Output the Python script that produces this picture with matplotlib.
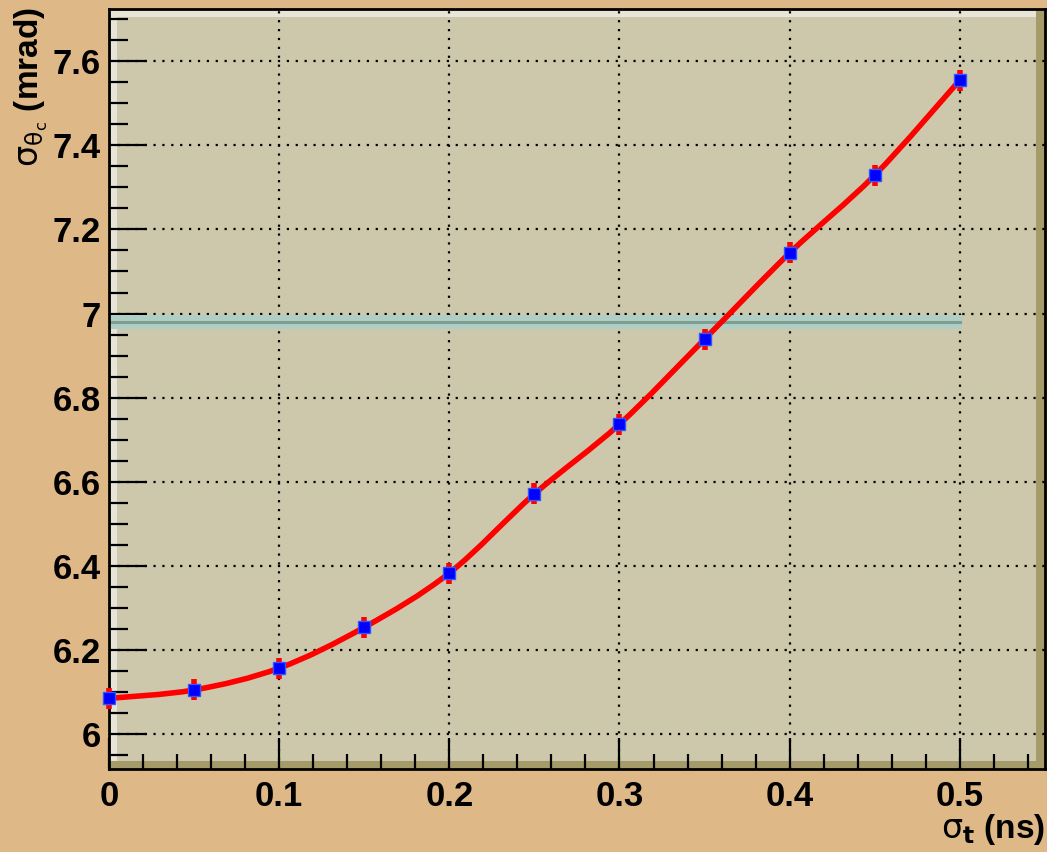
import numpy as np
import matplotlib.pyplot as plt
from matplotlib.path import Path
from matplotlib.patches import PathPatch, Rectangle
from matplotlib.ticker import MultipleLocator

plt.rcParams['font.family'] = ['Liberation Sans', 'DejaVu Sans']
plt.rcParams['mathtext.fontset'] = 'dejavusans'

# data
sigma_t = [0.0, 0.05, 0.1, 0.15, 0.2, 0.25, 0.3, 0.35, 0.4, 0.45, 0.5]
sigma_theta = [6.085, 6.105, 6.157, 6.254, 6.383, 6.571, 6.737, 6.939, 7.144, 7.329, 7.555]
sigma_err = [0.025, 0.025, 0.025, 0.025, 0.025, 0.025, 0.025, 0.025, 0.025, 0.025, 0.025]
band_center = 6.98
band_halfwidth = 0.017

bg = '#deb887'
frame_fill = '#cdc8ab'

fig = plt.figure(figsize=(10.47, 8.52), dpi=100, facecolor=bg)
ax = fig.add_axes([0.1041, 0.0974, 0.8939, 0.892])
ax.set_facecolor(frame_fill)
ax.set_xlim(0, 0.55)
ax.set_ylim(5.917, 7.724)

# bevel border of the frame (light left/top, dark right/bottom)
ax.add_patch(Rectangle((0, 0), 0.0085, 1, transform=ax.transAxes, color='#e8e5d8', zorder=0.5, lw=0))
ax.add_patch(Rectangle((0, 0.989), 1, 0.011, transform=ax.transAxes, color='#e8e5d8', zorder=0.5, lw=0))
ax.add_patch(Rectangle((0.991, 0), 0.009, 1, transform=ax.transAxes, color='#a59a6a', zorder=0.5, lw=0))
ax.add_patch(Rectangle((0, 0), 1, 0.0105, transform=ax.transAxes, color='#a59a6a', zorder=0.5, lw=0))

ax.grid(True, which='major', color='black', linestyle=(0, (1, 3)), linewidth=1.6)
ax.set_axisbelow(True)

# reference band
ax.axhspan(band_center - band_halfwidth, band_center + band_halfwidth, xmin=0, xmax=0.5 / 0.55 + 0.002,
           color='#afcfc6', zorder=2, lw=0)
ax.plot([0, 0.5], [band_center, band_center], color='#7f9e8f', lw=2.2, zorder=2.1)

# smooth curve through the points (Catmull-Rom -> cubic Bezier)
x = np.array(sigma_t)
y = np.array(sigma_theta)
verts = [(x[0], y[0])]
codes = [Path.MOVETO]
for i in range(len(x) - 1):
    x0, y0 = (x[i - 1], y[i - 1]) if i > 0 else (x[i], y[i])
    x3, y3 = (x[i + 2], y[i + 2]) if i + 2 < len(x) else (x[i + 1], y[i + 1])
    c1 = (x[i] + (x[i + 1] - x0) / 6, y[i] + (y[i + 1] - y0) / 6)
    c2 = (x[i + 1] - (x3 - x[i]) / 6, y[i + 1] - (y3 - y[i]) / 6)
    verts += [c1, c2, (x[i + 1], y[i + 1])]
    codes += [Path.CURVE4] * 3
ax.add_patch(PathPatch(Path(verts, codes), facecolor='none', edgecolor='red', lw=4, zorder=3))

eb = ax.errorbar(sigma_t, sigma_theta, yerr=sigma_err, fmt='none', ecolor='red', elinewidth=4, zorder=4)
for c in eb.get_children():
    c.set_clip_on(False)
ax.plot(sigma_t, sigma_theta, 's', color='blue', markersize=9, markeredgewidth=1,
        markeredgecolor='#3355ff', zorder=5, clip_on=False)

ax.xaxis.set_major_locator(MultipleLocator(0.1))
ax.xaxis.set_minor_locator(MultipleLocator(0.02))
ax.yaxis.set_major_locator(MultipleLocator(0.2))
ax.yaxis.set_minor_locator(MultipleLocator(0.05))
ax.set_xticks([0, 0.1, 0.2, 0.3, 0.4, 0.5])
ax.set_xticklabels(['0', '0.1', '0.2', '0.3', '0.4', '0.5'])
ax.set_yticks([6, 6.2, 6.4, 6.6, 6.8, 7, 7.2, 7.4, 7.6])
ax.set_yticklabels(['6', '6.2', '6.4', '6.6', '6.8', '7', '7.2', '7.4', '7.6'])
ax.tick_params(axis='both', which='both', direction='in', top=False, right=False, width=1.6, color='black')
ax.tick_params(axis='y', which='major', length=27, labelsize=25, pad=6)
ax.tick_params(axis='y', which='minor', length=14)
ax.tick_params(axis='x', which='major', length=22, labelsize=25, pad=8)
ax.tick_params(axis='x', which='minor', length=11)
for lab in ax.get_xticklabels() + ax.get_yticklabels():
    lab.set_fontweight('bold')

for side in ['left', 'bottom', 'top', 'right']:
    ax.spines[side].set_linewidth(2)
    ax.spines[side].set_color('black')

fig.text(0.998, 0.026, r'$\mathrm{\sigma}_{\mathbf{t}}$ (ns)', ha='right', va='center', fontsize=24,
         fontweight='bold')
fig.text(0.03, 0.992, r'$\mathrm{\sigma}_{\mathrm{\theta}_{\mathrm{c}}}$ (mrad)', ha='center', va='top',
         rotation=90, fontsize=24, fontweight='bold')

fig.savefig('out.png', dpi=100, facecolor=bg)
